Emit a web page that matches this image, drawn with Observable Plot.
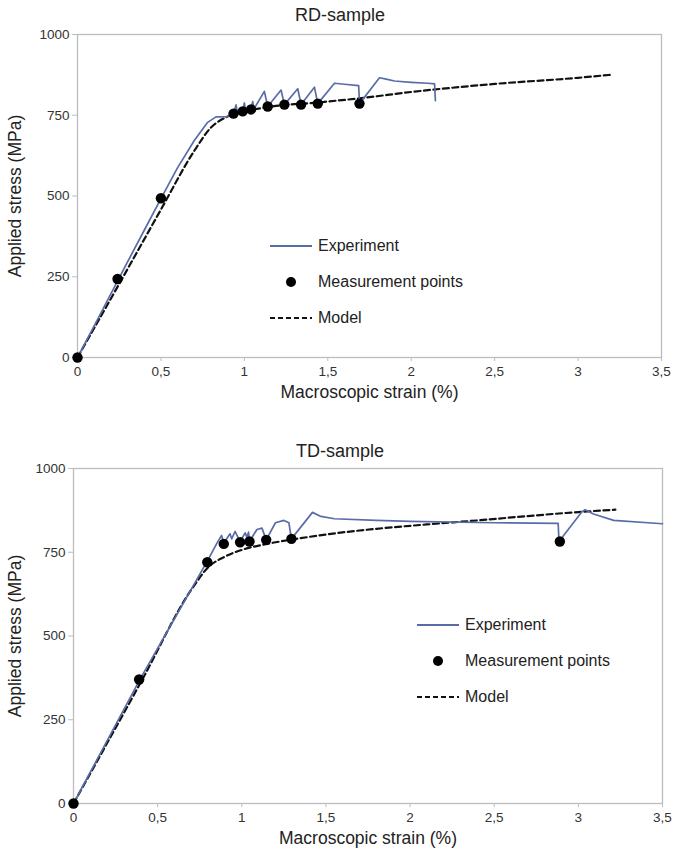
<!DOCTYPE html>
<html>
<head>
<meta charset="utf-8">
<script src="https://cdn.jsdelivr.net/npm/d3@7"></script>
<script src="https://cdn.jsdelivr.net/npm/@observablehq/plot@0.6"></script>
<style>
  body { margin: 0; background: #fff; font-family: "Liberation Sans", Arial, sans-serif; color: #222; }
  #wrap { position: relative; width: 686px; height: 850px; overflow: hidden; }
  .chart { position: absolute; left: 0; }
  .title { position: absolute; width: 686px; left: -3px; text-align: center; font-size: 18px; color: #222; }
  .legend { position: absolute; font-size: 16px; color: #222; }
  .legend .row { display: flex; align-items: center; height: 36px; }
  .legend svg { margin-right: 6px; }
  svg [aria-label="x-axis label"] text, svg [aria-label="y-axis label"] text { font-size: 17.5px; fill: #222; }
  svg [aria-label="x-axis tick label"] text, svg [aria-label="y-axis tick label"] text { fill: #333; }
</style>
</head>
<body>
<div id="wrap"></div>
<script>
// ---------- data ----------
const xTicks = [0, 0.5, 1, 1.5, 2, 2.5, 3, 3.5];
const yTicks = [0, 250, 500, 750, 1000];

// RD-sample
const rdExpStrain = [0, 0.1, 0.2, 0.3, 0.4, 0.5, 0.6, 0.7, 0.78, 0.83, 0.9, 0.935, 0.95, 0.958, 0.99, 1.0, 1.007, 1.04, 1.05, 1.058, 1.12, 1.14, 1.22, 1.24, 1.32, 1.34, 1.42, 1.44, 1.54, 1.6, 1.685, 1.69, 1.81, 1.85, 1.9, 2.0, 2.1, 2.14, 2.145];
const rdExpStress = [0, 98, 197, 296, 394, 492, 588, 672, 728, 745, 746, 755, 782, 758, 762, 788, 764, 768, 792, 770, 824, 777, 828, 783, 832, 783, 837, 786, 849, 846, 842, 786, 866, 862, 856, 852, 849, 847, 795];
const rdPtStrain = [0, 0.24, 0.5, 0.935, 0.99, 1.04, 1.14, 1.24, 1.34, 1.44, 1.69];
const rdPtStress = [0, 243, 493, 755, 762, 768, 777, 783, 783, 786, 786];
const rdModelStrain = [0, 0.25, 0.5, 0.7, 0.8, 0.9, 1.0, 1.15, 1.45, 1.7, 2.0, 2.5, 3.0, 3.21];
const rdModelStress = [0, 228, 458, 640, 712, 746, 761, 776, 790, 803, 822, 847, 866, 876];

// TD-sample
const tdExpStrain = [0, 0.4, 0.8, 0.85, 0.88, 0.893, 0.93, 0.94, 0.96, 0.99, 1.02, 1.03, 1.04, 1.046, 1.09, 1.12, 1.145, 1.2, 1.25, 1.28, 1.295, 1.42, 1.47, 1.55, 1.8, 2.0, 2.5, 2.88, 2.885, 3.02, 3.04, 3.09, 3.21, 3.5];
const tdExpStress = [0, 375, 728, 775, 800, 777, 805, 790, 812, 782, 808, 795, 810, 782, 818, 822, 787, 838, 845, 838, 790, 869, 857, 850, 845, 842, 838, 836, 782, 870, 877, 864, 845, 835];
const tdPtStrain = [0, 0.39, 0.795, 0.893, 0.99, 1.046, 1.145, 1.295, 2.89];
const tdPtStress = [0, 370, 720, 775, 780, 782, 787, 790, 782];
const tdModelStrain = [0, 0.4, 0.7, 0.8, 0.9, 1.0, 1.15, 1.3, 1.5, 1.8, 2.1, 2.4, 2.7, 3.0, 3.22];
const tdModelStress = [0, 362, 638, 705, 737, 757, 775, 788, 803, 820, 833, 845, 858, 870, 877];

const titles = ["RD-sample", "TD-sample"];
const legendLabels = ["Experiment", "Measurement points", "Model"];
const xLabel = "Macroscopic strain (%)";
const yLabel = "Applied stress (MPa)";

// ---------- drawing ----------
const expColor = "#5a6ca8";
const fmt = d => String(d).replace(".", ",");
const toRows = (xs, ys) => xs.map((x, i) => ({x, y: ys[i]}));

function chart(cfg) {
  return Plot.plot({
    width: 686,
    height: cfg.height,
    marginLeft: cfg.ml,
    marginRight: cfg.mr,
    marginTop: 34,
    marginBottom: cfg.mb,
    style: {fontFamily: '"Liberation Sans", Arial, sans-serif', background: "transparent"},
    x: {domain: [0, 3.5]},
    y: {domain: [0, 1000]},
    marks: [
      Plot.frame({stroke: "#bdbdbd", strokeWidth: 1.3}),
      Plot.axisX({ticks: xTicks, tickFormat: fmt, tickSize: 4, tickPadding: 5, fontSize: 13.5,
        stroke: "#bdbdbd", label: xLabel, labelAnchor: "center", labelArrow: "none", labelOffset: 40}),
      Plot.axisY({ticks: yTicks, tickFormat: d => String(d), tickSize: 5, tickPadding: 3, fontSize: 13.5,
        stroke: "#bdbdbd", label: yLabel, labelAnchor: "center", labelArrow: "none", labelOffset: cfg.ml - 8}),
      Plot.line(toRows(cfg.modelX, cfg.modelY), {x: "x", y: "y", stroke: "#111", strokeWidth: 2.2, strokeDasharray: "6,3.5", curve: "monotone-x"}),
      Plot.line(toRows(cfg.expX, cfg.expY), {x: "x", y: "y", stroke: expColor, strokeWidth: 1.7}),
      Plot.dot(toRows(cfg.ptX, cfg.ptY), {x: "x", y: "y", r: 5.2, fill: "#000", stroke: "none"})
    ]
  });
}

const wrap = document.getElementById("wrap");

function addChart(top, svg) {
  svg.classList.add("chart");
  svg.style.top = top + "px";
  wrap.appendChild(svg);
}

function addTitle(top, text) {
  const d = document.createElement("div");
  d.className = "title";
  d.style.top = top + "px";
  d.textContent = text;
  wrap.appendChild(d);
}

function addLegend(left, top) {
  const lg = document.createElement("div");
  lg.className = "legend";
  lg.style.left = left + "px";
  lg.style.top = top + "px";
  const syms = [
    `<svg width="42" height="10"><line x1="0" y1="5" x2="42" y2="5" stroke="${expColor}" stroke-width="1.8"/></svg>`,
    `<svg width="42" height="12"><circle cx="21" cy="6" r="5" fill="#000"/></svg>`,
    `<svg width="42" height="10"><line x1="0" y1="5" x2="42" y2="5" stroke="#111" stroke-width="2" stroke-dasharray="5,3"/></svg>`
  ];
  legendLabels.forEach((t, i) => {
    const r = document.createElement("div");
    r.className = "row";
    r.innerHTML = syms[i] + `<span>${t}</span>`;
    lg.appendChild(r);
  });
  wrap.appendChild(lg);
}

addChart(0, chart({height: 405, ml: 77, mr: 25, mb: 48,
  expX: rdExpStrain, expY: rdExpStress, ptX: rdPtStrain, ptY: rdPtStress, modelX: rdModelStrain, modelY: rdModelStress}));
addTitle(5, titles[0]);
addLegend(270, 228);

addChart(434, chart({height: 416, ml: 73, mr: 24, mb: 47,
  expX: tdExpStrain, expY: tdExpStress, ptX: tdPtStrain, ptY: tdPtStress, modelX: tdModelStrain, modelY: tdModelStress}));
addTitle(441, titles[1]);
addLegend(417, 607);
</script>
</body>
</html>
